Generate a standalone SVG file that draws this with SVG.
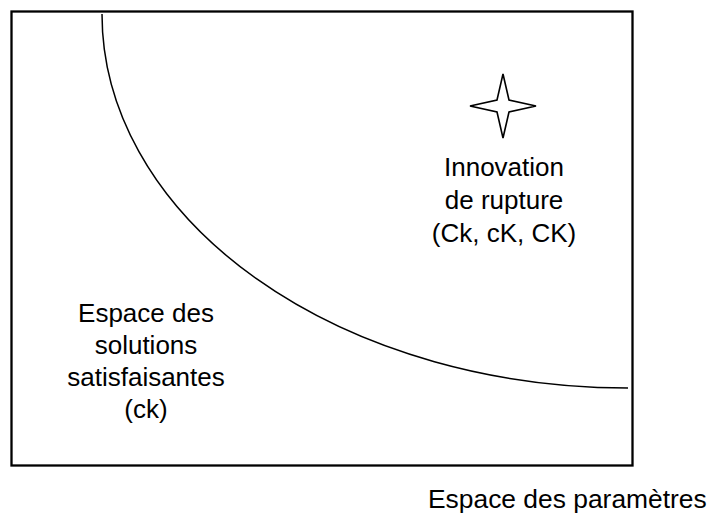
<svg xmlns="http://www.w3.org/2000/svg" width="710" height="513" viewBox="0 0 710 513">
<style>
.t{font-family:"Liberation Sans",Arial,sans-serif;font-size:26px;fill:#000;text-anchor:middle}
.ln{fill:none;stroke:#000}
</style>
<rect x="0" y="0" width="710" height="513" fill="#fff"/>
<g id="frame"><rect class="ln" x="11.5" y="11.5" width="621" height="454" stroke-width="2.3"/></g>
<g id="connectors"><path id="frontier" class="ln" stroke-width="1.5" d="M102,14 A526,374 0 0 0 628,388"/></g>
<g id="star"><path class="ln" stroke-width="1.6" d="M503,74 L497,100 L470,106 L497,112 L503,138 L509,112 L536,106 L509,100 Z"/></g>
<g id="innovation">
<text class="t" x="504" y="176">Innovation</text>
<text class="t" x="504" y="209">de rupture</text>
<text class="t" x="504" y="242">(Ck, cK, CK)</text>
</g>
<g id="solutions">
<text class="t" x="146" y="322">Espace des</text>
<text class="t" x="146" y="354">solutions</text>
<text class="t" x="146" y="386">satisfaisantes</text>
<text class="t" x="146" y="418">(ck)</text>
</g>
<g id="axis"><text class="t" x="428" y="508" style="text-anchor:start;font-size:26.4px">Espace des paramètres</text></g>
</svg>
